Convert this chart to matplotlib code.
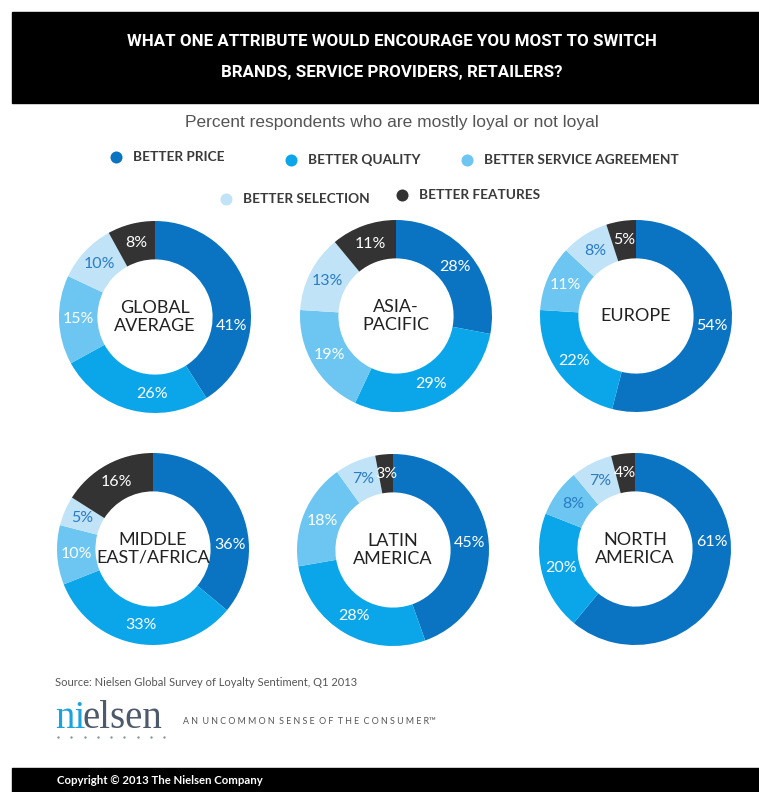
import numpy as np
import matplotlib.pyplot as plt
from matplotlib.patches import Rectangle

# survey shares, order: price, quality, service agreement, selection, features
categories = ['BETTER PRICE', 'BETTER QUALITY', 'BETTER SERVICE AGREEMENT',
              'BETTER SELECTION', 'BETTER FEATURES']
regions = ['GLOBAL\nAVERAGE', 'ASIA-\nPACIFIC', 'EUROPE',
           'MIDDLE\nEAST/AFRICA', 'LATIN\nAMERICA', 'NORTH\nAMERICA']
global_avg = [41, 26, 15, 10, 8]
asia_pacific = [28, 29, 19, 13, 11]
europe = [54, 22, 11, 8, 5]
mid_east_africa = [36, 33, 10, 5, 16]
latin_america = [45, 28, 18, 7, 3]
north_america = [61, 20, 8, 7, 4]
values = [global_avg, asia_pacific, europe, mid_east_africa, latin_america, north_america]

colors = ['#0a74c2', '#0ba6ea', '#6cc6f1', '#c0e3f8', '#333333']
dark_txt = '#2a7cc4'

W, H = 759, 792
fig = plt.figure(figsize=(W / 100, H / 100), dpi=100)
ax = fig.add_axes([0, 0, 1, 1])

def py(y):
    # pixel rows from top -> data y
    return H - y

centers = [(155, 317), (396, 316), (636, 316),
           (153, 549), (393, 550), (635, 549)]
R = 96
ring = 0.40 * R
# hand-placed label angles (clockwise from 12 o'clock) where the original moves them
label_angle = {(0, 0): 97, (0, 1): 182, (3, 0): 87, (4, 0): 85, (5, 0): 85}

for k, ((cx, cy), name, vals) in enumerate(zip(centers, regions, values)):
    wedges, _ = ax.pie(vals, colors=colors, startangle=90, counterclock=False,
                       radius=R, center=(cx, py(cy)), normalize=True,
                       wedgeprops=dict(width=ring, linewidth=0), frame=True)
    for i, (w, v) in enumerate(zip(wedges, vals)):
        ang = np.deg2rad((w.theta1 + w.theta2) / 2)
        if (k, i) in label_angle:
            ang = np.deg2rad(90 - label_angle[(k, i)])
        rm = R - ring / 2
        tx = cx + rm * np.cos(ang)
        ty = py(cy) + rm * np.sin(ang)
        tc = dark_txt if (i == 3 or (i == 2 and v < 10)) else 'white'
        ax.text(tx, ty, f'{v}%', ha='center', va='center', color=tc,
                fontsize=11.5, family='Lato')
    ax.text(cx, py(cy), name, ha='center', va='center', color='#222222',
            fontsize=13, family='Lato', linespacing=1.15)

# title band
ax.add_patch(Rectangle((12, py(103)), W - 12, 91, color='black', zorder=0))
ax.text(392, py(42), 'WHAT ONE ATTRIBUTE WOULD ENCOURAGE YOU MOST TO SWITCH',
        ha='center', va='center', color='white', fontsize=12.2, weight='bold',
        family=['Roboto', 'DejaVu Sans'])
ax.text(392, py(73), 'BRANDS, SERVICE PROVIDERS, RETAILERS?',
        ha='center', va='center', color='white', fontsize=12.2, weight='bold',
        family=['Roboto', 'DejaVu Sans'])
ax.text(392, py(122), 'Percent respondents who are mostly loyal or not loyal',
        ha='center', va='center', color='#555555', fontsize=12.5,
        family='Liberation Sans')

# legend
leg_pos = [(116, 157), (291, 160), (467, 160), (226, 199), (402, 195)]
for (lx, ly), lab, c in zip(leg_pos, categories, colors):
    ax.scatter([lx], [py(ly)], s=75, color=c, linewidths=0)
    ax.text(lx + 17, py(ly), lab, ha='left', va='center', color='#3a3a3a',
            fontsize=9.8, weight='bold', family='Lato')

# source and logo
ax.text(55, py(683), 'Source: Nielsen Global Survey of Loyalty Sentiment, Q1 2013',
        ha='left', va='center', color='#555555', fontsize=8.0, family='Lato')
ax.text(55, py(728), 'ni', ha='left', va='baseline', color='#1aa3de',
        fontsize=28, family='Liberation Serif')
ax.text(83, py(728), 'elsen', ha='left', va='baseline', color='#4d5a6b',
        fontsize=28, family='Liberation Serif')
ax.scatter(np.linspace(58, 164, 9), [py(737)] * 9, s=3, color='#8a95a3',
           linewidths=0)
ax.text(183, py(722), 'A N  U N C O M M O N  S E N S E  O F  T H E  C O N S U M E R\u2122',
        ha='left', va='center', color='#555555', fontsize=6.4, family='Lato')

# footer band
ax.add_patch(Rectangle((12, 0), W - 12, H - 768, color='black', zorder=0))
ax.text(57, py(781), 'Copyright \u00a9 2013 The Nielsen Company', ha='left',
        va='center', color='white', fontsize=8.2, weight='bold', family='Lato')

ax.set_xlim(0, W)
ax.set_ylim(0, H)
ax.set_aspect('equal')
ax.axis('off')

fig.savefig('out.png', dpi=100, facecolor='white')
